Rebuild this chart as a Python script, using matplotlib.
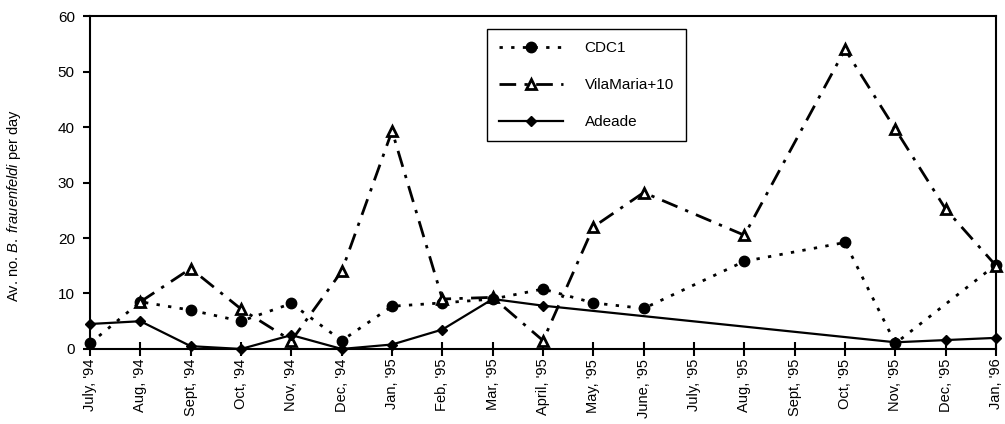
import numpy as np
import matplotlib.pyplot as plt
from matplotlib.lines import Line2D

plt.rcParams['font.family'] = ['Liberation Sans', 'DejaVu Sans']
plt.rcParams['mathtext.fontset'] = 'custom'
plt.rcParams['mathtext.rm'] = 'Liberation Sans'
plt.rcParams['mathtext.it'] = 'Liberation Sans:italic'

months = ["July, '94", "Aug, '94", "Sept, '94", "Oct, '94", "Nov, '94", "Dec, '94",
          "Jan, '95", "Feb, '95", "Mar, '95", "April, '95", "May, '95", "June, '95",
          "July, '95", "Aug, '95", "Sept, '95", "Oct, '95", "Nov, '95", "Dec, '95",
          "Jan, '96"]

nan = np.nan
cdc1 = [1.0, 8.5, 7.0, 5.0, 8.2, 1.5, 7.7, 8.3, 9.0, 10.8, 8.3, 7.3,
        nan, 15.8, nan, 19.2, 1.0, nan, 15.2]
vilamaria = [nan, 8.5, 14.5, 7.2, 1.5, 14.0, 39.3, 9.0, 9.3, 1.5, 22.0, 28.2,
             nan, 20.5, nan, 54.0, 39.6, 25.2, 15.0]
adeade = [4.5, 5.0, 0.5, 0.0, 2.5, 0.0, 0.8, 3.5, 9.0, 7.8, nan, nan,
          nan, nan, nan, nan, 1.2, 1.6, 2.0]

fig = plt.figure(figsize=(10.05, 4.24), dpi=100)
ax = fig.add_axes([0.0896, 0.177, 0.9015, 0.785])

x = np.arange(len(months))

DOT = (0, (1.2, 3.0))
DASHDOT = (0, (6.0, 3.0, 1.2, 3.0))


def plot_series(vals, **kw):
    v = np.asarray(vals, dtype=float)
    m = ~np.isnan(v)
    return ax.plot(x[m], v[m], clip_on=False, **kw)[0]


plot_series(cdc1, color='black', lw=2.0, linestyle=DOT,
            marker='o', markersize=7.5, markerfacecolor='black',
            markeredgecolor='black', zorder=3)
plot_series(vilamaria, color='black', lw=2.0, linestyle=DASHDOT,
            marker='^', markersize=7, markerfacecolor='white',
            markeredgecolor='black', markeredgewidth=2.0, zorder=4)
plot_series(adeade, color='black', lw=1.6, linestyle='-',
            marker='D', markersize=5.5, markerfacecolor='black',
            markeredgecolor='black', zorder=5)

ax.set_xlim(0, len(months) - 1)
ax.set_ylim(0, 60)
ax.set_yticks(np.arange(0, 61, 10))
ax.set_xticks(x)
ax.set_xticklabels(months, rotation=90, fontsize=10.5)
ax.tick_params(axis='y', direction='out', length=5, width=1.5, labelsize=11, pad=6)
ax.tick_params(axis='x', direction='inout', length=10, width=1.5, pad=2)

for s in ax.spines.values():
    s.set_linewidth(1.5)

ax.set_ylabel(r"Av. no. $\mathit{B.\ frauenfeldi}$ per day", fontsize=10.5)
ax.yaxis.set_label_coords(-0.074, 0.43)

handles = [
    Line2D([], [], color='black', lw=2.0, linestyle=DOT, marker='o',
           markersize=7.5, markerfacecolor='black'),
    Line2D([], [], color='black', lw=2.0, linestyle=DASHDOT, marker='^',
           markersize=6.5, markerfacecolor='white', markeredgewidth=2.0),
    Line2D([], [], color='black', lw=1.6, marker='D', markersize=5.5,
           markerfacecolor='black'),
]
leg = ax.legend(handles, ['CDC1', 'VilaMaria+10', 'Adeade'], loc='upper left',
                bbox_to_anchor=(0.438, 0.961), borderaxespad=0, fontsize=11,
                handlelength=4.2, handletextpad=1.4, labelspacing=1.5,
                borderpad=0.8, fancybox=False, framealpha=1, edgecolor='black')
leg.get_frame().set_linewidth(1.0)

fig.savefig('out.png', dpi=100)
